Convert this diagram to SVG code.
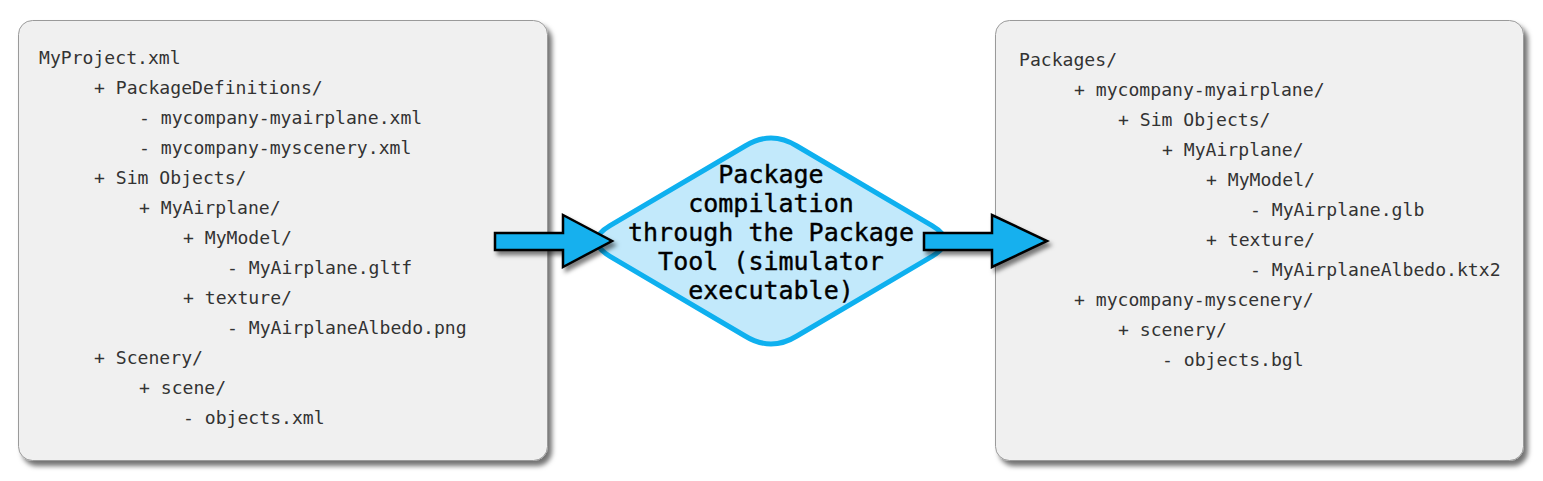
<svg xmlns="http://www.w3.org/2000/svg" width="1543" height="481" viewBox="0 0 1543 481">
<defs>
<filter id="sh" x="-10%" y="-10%" width="125%" height="125%">
<feDropShadow dx="4" dy="5" stdDeviation="2.5" flood-color="#000" flood-opacity="0.55"/>
</filter>
<filter id="ash" x="-20%" y="-30%" width="150%" height="170%">
<feDropShadow dx="3" dy="4" stdDeviation="2" flood-color="#000" flood-opacity="0.5"/>
</filter>
<style>
.box{fill:#f0f0f0;stroke:#9a9a9a;stroke-width:1;filter:url(#sh)}
.t{font-family:"DejaVu Sans Mono","Liberation Mono",monospace;font-size:18.1px;fill:#333}
.c{font-family:"DejaVu Sans Mono","Liberation Mono",monospace;font-size:25px;fill:#000;text-anchor:middle;stroke:#000;stroke-width:0.4}
.arr{fill:#12b0ee;stroke:#000;stroke-width:2.5;stroke-linejoin:miter;filter:url(#ash)}
</style>
</defs>
<rect width="1543" height="481" fill="#fff"/>

<g id="source">
<rect class="box" x="18.5" y="20.5" width="529" height="440" rx="14"/>
<text class="t" x="39" y="64">MyProject.xml</text>
<text class="t" x="94" y="94">+ PackageDefinitions/</text>
<text class="t" x="139" y="124">- mycompany-myairplane.xml</text>
<text class="t" x="139" y="154">- mycompany-myscenery.xml</text>
<text class="t" x="94" y="184">+ Sim Objects/</text>
<text class="t" x="139" y="214">+ MyAirplane/</text>
<text class="t" x="183" y="244">+ MyModel/</text>
<text class="t" x="227" y="274">- MyAirplane.gltf</text>
<text class="t" x="183" y="304">+ texture/</text>
<text class="t" x="227" y="334">- MyAirplaneAlbedo.png</text>
<text class="t" x="94" y="364">+ Scenery/</text>
<text class="t" x="139" y="394">+ scene/</text>
<text class="t" x="183" y="424">- objects.xml</text>
</g>

<g id="output">
<rect class="box" x="995.5" y="20.5" width="528" height="440" rx="14"/>
<text class="t" x="1019" y="66">Packages/</text>
<text class="t" x="1074" y="96">+ mycompany-myairplane/</text>
<text class="t" x="1118" y="126">+ Sim Objects/</text>
<text class="t" x="1162" y="156">+ MyAirplane/</text>
<text class="t" x="1206" y="186">+ MyModel/</text>
<text class="t" x="1250" y="216">- MyAirplane.glb</text>
<text class="t" x="1206" y="246">+ texture/</text>
<text class="t" x="1250" y="276">- MyAirplaneAlbedo.ktx2</text>
<text class="t" x="1074" y="306">+ mycompany-myscenery/</text>
<text class="t" x="1118" y="336">+ scenery/</text>
<text class="t" x="1162" y="366">- objects.bgl</text>
</g>

<g id="tool">
<path d="M610,225.7 L745.1,146 Q771,130 796.9,146 L932,225.7 Q958,241 932,256.3 L796.9,336 Q771,352 745.1,336 L610,256.3 Q584,241 610,225.7 Z" fill="#c2e9fb" stroke="#0eb0ef" stroke-width="5" stroke-linejoin="round"/>
<text class="c" x="771" y="183">Package</text>
<text class="c" x="771" y="212">compilation</text>
<text class="c" x="771" y="241">through the Package</text>
<text class="c" x="771" y="270">Tool (simulator</text>
<text class="c" x="771" y="299">executable)</text>
</g>

<g id="connectors">
<path class="arr" d="M495,233 L563,233 L563,215 L612,241 L563,267 L563,250 L495,250 Z"/>
<path class="arr" d="M924,233 L992,233 L992,215 L1047,241 L992,267 L992,250 L924,250 Z"/>
</g>
</svg>
